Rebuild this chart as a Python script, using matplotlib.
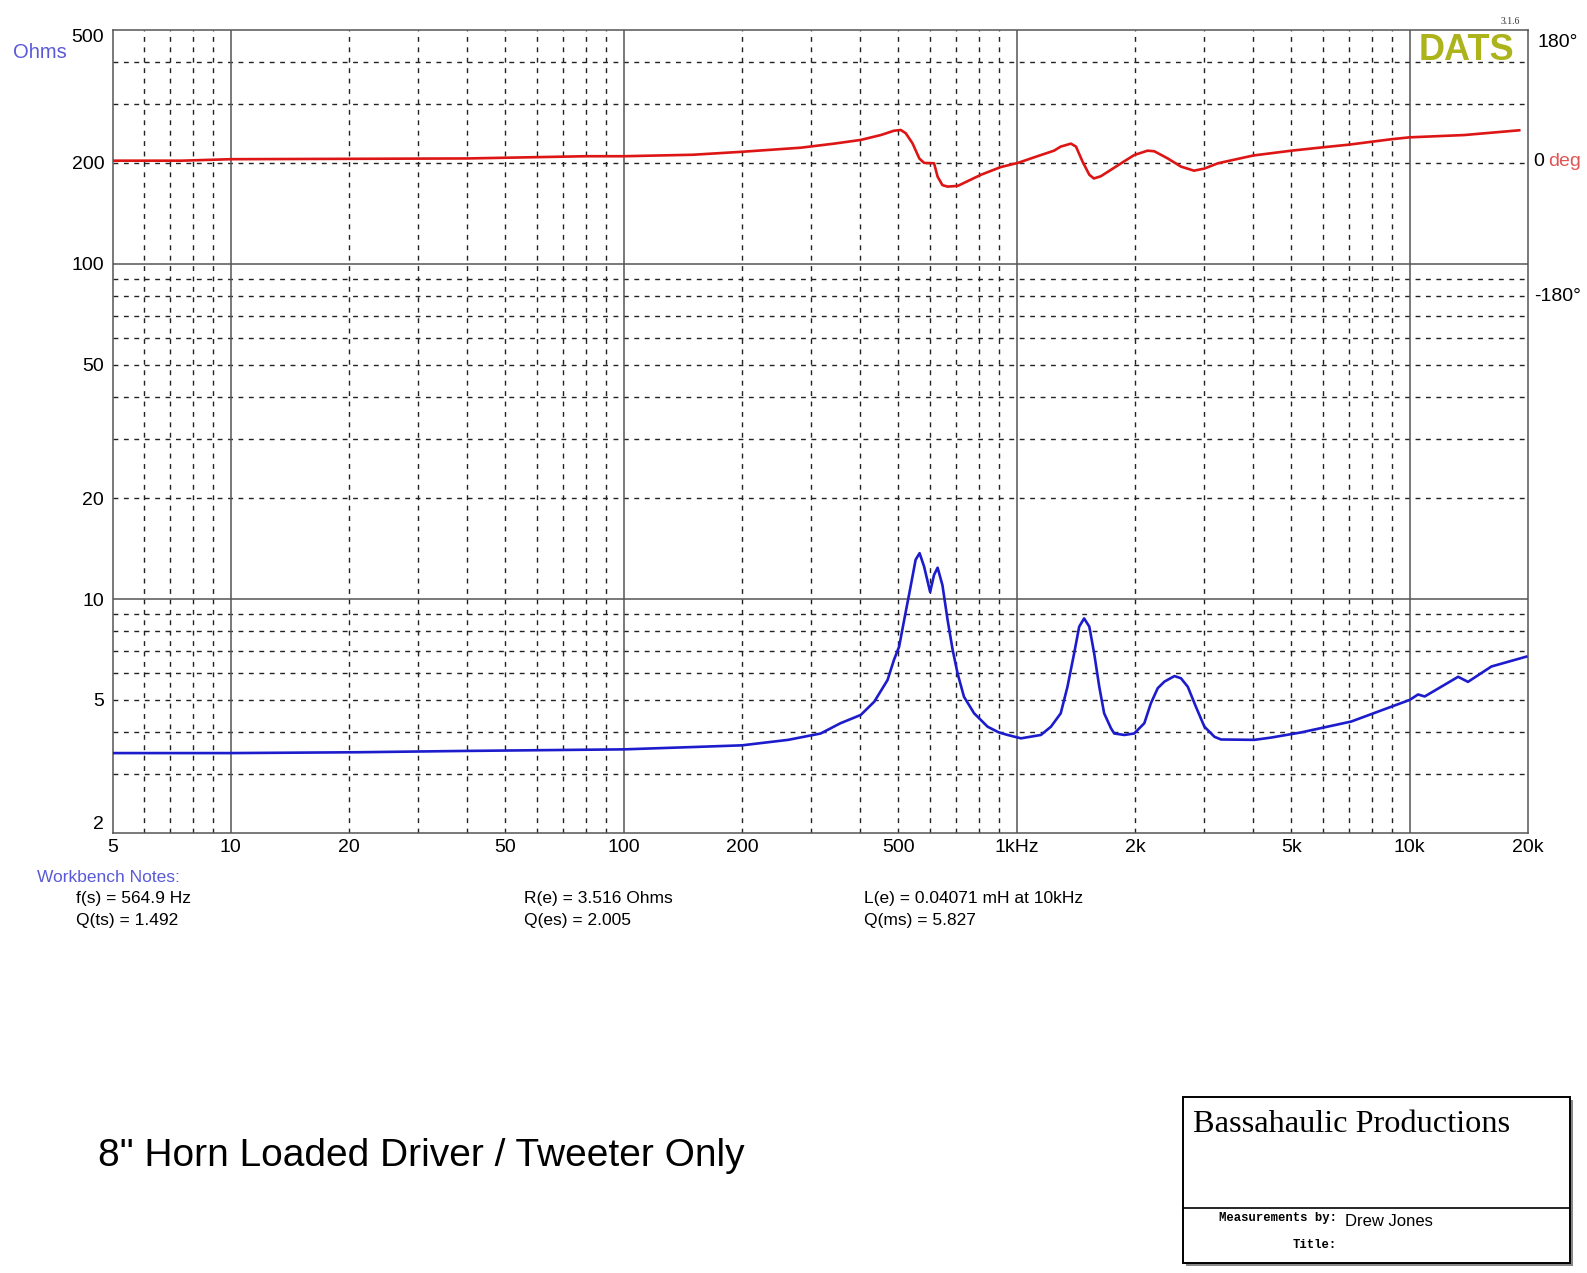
import matplotlib
matplotlib.use("Agg")
import matplotlib.pyplot as plt
from matplotlib.patches import Rectangle
from matplotlib.lines import Line2D
from matplotlib.ticker import FixedLocator, NullFormatter

# impedance magnitude (Ohms)
imp_freq = [5, 10, 21, 38, 100, 153, 200, 262, 317, 356, 401, 434, 469, 487, 502, 517,
            537, 553, 566, 581, 602, 616, 629, 647, 667, 687, 707, 734, 779, 843, 900,
            948, 1025, 1152, 1222, 1294, 1346, 1400, 1442, 1484, 1530, 1574, 1622, 1669,
            1738, 1771, 1878, 1990, 2112, 2195, 2285, 2376, 2520, 2618, 2725, 2857, 3003,
            3186, 3310, 4025, 4440, 5296, 7100, 10000, 10500, 10920, 13280, 14070, 16140,
            19800]
imp_ohms = [3.47, 3.47, 3.49, 3.52, 3.56, 3.62, 3.66, 3.80, 3.97, 4.26, 4.51, 4.94, 5.73, 6.58, 7.21, 8.65,
            10.9, 13.1, 13.7, 12.5, 10.5, 11.8, 12.4, 11.0, 8.65, 7.05, 6.0, 5.11, 4.56, 4.16, 4.0,
            3.93, 3.84, 3.93, 4.16, 4.56, 5.47, 6.89, 8.27, 8.75, 8.27, 6.89, 5.47, 4.56,
            4.11, 3.97, 3.93, 3.97, 4.26, 4.89, 5.42, 5.67, 5.89, 5.80, 5.47, 4.77, 4.16,
            3.88, 3.81, 3.80, 3.86, 4.0, 4.31, 5.0, 5.19, 5.12, 5.86, 5.66, 6.29,
            6.73]

# phase (degrees)
ph_freq = [5, 7.5, 10, 40, 80, 100, 150, 200, 282, 343, 401, 451, 487, 507, 522, 543,
           565, 581, 616, 629, 647, 667, 708, 811, 912, 1007, 1107, 1244, 1294, 1374,
           1415, 1471, 1530, 1571, 1637, 1850, 1990, 2152, 2239, 2419, 2618, 2825, 3004,
           3250, 4000, 5000, 6000, 7000, 9000, 10000, 13770, 19000]
ph_deg = [3, 3, 5, 6, 9, 9, 11, 15, 20.5, 26, 31, 37.6, 43.4, 44.4, 40, 26.4,
          6, 0, -0.5, -18.6, -30, -32, -31, -16, -5.5, 0, 7.5, 16.5, 22, 26,
          22, 1.6, -16, -21, -18, 0, 10.6, 16.5, 15.7, 6.2, -5, -10.5, -7.6,
          -0.5, 10, 16.5, 21, 24.6, 32, 34.5, 37.6, 44]

x_ticks = [5, 10, 20, 50, 100, 200, 500, 1000, 2000, 5000, 10000, 20000]
x_labels = ["5", "10", "20", "50", "100", "200", "500", "1kHz", "2k", "5k", "10k", "20k"]
y_ticks = [2, 5, 10, 20, 50, 100, 200, 500]
y_labels = ["2", "5", "10", "20", "50", "100", "200", "500"]
phase_ticks = [180, 0, -180]

W, H = 1587, 1273
fig = plt.figure(figsize=(W / 100, H / 100), dpi=100)
ax = fig.add_axes([112.5 / W, 1 - 833.3 / H, (1528 - 112.5) / W, (833.3 - 29.5) / H])

sans = ["Liberation Sans", "DejaVu Sans"]
serif = ["Liberation Serif", "DejaVu Serif"]
mono = ["Liberation Mono", "DejaVu Sans Mono"]

ax.set_xscale("log")
ax.set_yscale("log")
ax.set_xlim(5, 20000)
ax.set_ylim(2, 500)

# grid: solid decades, dashed the rest
minor_x = [m * d for d in (1, 10, 100, 1000, 10000) for m in range(2, 10) if 5 < m * d < 20000]
minor_y = [m * d for d in (1, 10, 100) for m in range(2, 10) if 2 < m * d < 500]
for v in minor_x:
    ax.axvline(v, color="#222222", lw=1.0, ls=(0, (3.5, 4)), zorder=1)
for v in minor_y:
    ax.axhline(v, color="#222222", lw=1.0, ls=(0, (3.5, 4)), zorder=1)
for v in (10, 100, 1000, 10000):
    ax.axvline(v, color="#555555", lw=1.1, zorder=1)
for v in (10, 100):
    ax.axhline(v, color="#555555", lw=1.1, zorder=1)
for s in ax.spines.values():
    s.set_color("#555555")
    s.set_linewidth(1.1)

ax.xaxis.set_major_locator(FixedLocator(x_ticks))
ax.xaxis.set_minor_formatter(NullFormatter())
ax.set_xticklabels(x_labels, family=sans, fontsize=14)
ax.yaxis.set_major_locator(FixedLocator(y_ticks))
ax.yaxis.set_minor_formatter(NullFormatter())
ax.set_yticklabels(y_labels, family=sans, fontsize=14)
ax.tick_params(which="both", length=0)
ax.tick_params(axis="y", pad=6)
ax.tick_params(axis="x", pad=4)
ylabs = ax.get_yticklabels()
ylabs[0].set_va("bottom")
ylabs[-1].set_va("top")

ax.plot(imp_freq, imp_ohms, color="#1c1ccc", lw=1.9, zorder=3, solid_joinstyle="round")

# phase on a linear twin scale: 180 at top, 0 on the 200 ohm line
ax2 = ax.twinx()
ax2.set_ylim(-904.6, 180)
ax2.set_yticks([])
for s in ax2.spines.values():
    s.set_visible(False)
ax2.plot(ph_freq, ph_deg, color="#dd1515", lw=1.9, zorder=3, solid_joinstyle="round")

tr = ax2.get_yaxis_transform()
ax2.text(1.007, phase_ticks[0] - 18, "180°", transform=tr, ha="left", va="center",
         fontsize=14, family=sans)
ax2.text(1.004, phase_ticks[1] + 2, "0", transform=tr, ha="left", va="center",
         fontsize=14, family=sans)
ax2.text(1.014, phase_ticks[1] + 2, "deg", transform=tr, ha="left", va="center",
         fontsize=14, family=sans, color="#e05555")
ax2.text(1.004, phase_ticks[2], "-180°", transform=tr, ha="left", va="center",
         fontsize=14, family=sans)

def ft(x, y, s, **kw):
    fig.text(x / W, 1 - y / H, s, **kw)

ft(40, 53, "Ohms", color="#5a5ad8", fontsize=14.5, family=sans, ha="center", va="center")
ft(1514, 51, "DATS", color="#adb31a", fontsize=26, family=sans, weight="bold",
   ha="right", va="center")
ft(1510, 21, "3.1.6", color="#333333", fontsize=7, family=serif, ha="center", va="center")

ft(37, 877, "Workbench Notes:", color="#5a5ad8", fontsize=12.5, family=sans, va="center")
ft(76, 898, "f(s) = 564.9 Hz", fontsize=12.5, family=sans, va="center")
ft(76, 920, "Q(ts) = 1.492", fontsize=12.5, family=sans, va="center")
ft(524, 898, "R(e) = 3.516 Ohms", fontsize=12.5, family=sans, va="center")
ft(524, 920, "Q(es) = 2.005", fontsize=12.5, family=sans, va="center")
ft(864, 898, "L(e) = 0.04071 mH at 10kHz", fontsize=12.5, family=sans, va="center")
ft(864, 920, "Q(ms) = 5.827", fontsize=12.5, family=sans, va="center")

ft(98, 1156, "8\" Horn Loaded Driver / Tweeter Only", fontsize=28, family=sans, va="center")

# title block
bx0, bx1, by0, by1, bsep = 1182.7, 1570, 1097.3, 1263.3, 1207.7
fig.add_artist(Rectangle((bx0 / W + 3 / W, 1 - by1 / H - 3 / H), (bx1 - bx0) / W, (by1 - by0) / H,
                         transform=fig.transFigure, facecolor="#888888", edgecolor="none"))
fig.add_artist(Rectangle((bx0 / W, 1 - by1 / H), (bx1 - bx0) / W, (by1 - by0) / H,
                         transform=fig.transFigure, facecolor="white", edgecolor="black", lw=1.4))
fig.add_artist(Line2D([bx0 / W, bx1 / W], [1 - bsep / H, 1 - bsep / H],
                      transform=fig.transFigure, color="black", lw=1.2))
ft(1193, 1124, "Bassahaulic Productions", fontsize=23.3, family=serif, va="center")
ft(1337, 1218, "Measurements by:", fontsize=8.8, weight="bold", family=mono,
   ha="right", va="center")
ft(1345, 1222, "Drew Jones", fontsize=12, family=sans, va="center")
ft(1337, 1245, "Title:", fontsize=8.8, weight="bold", family=mono, ha="right", va="center")

fig.savefig("out.png", dpi=100)
